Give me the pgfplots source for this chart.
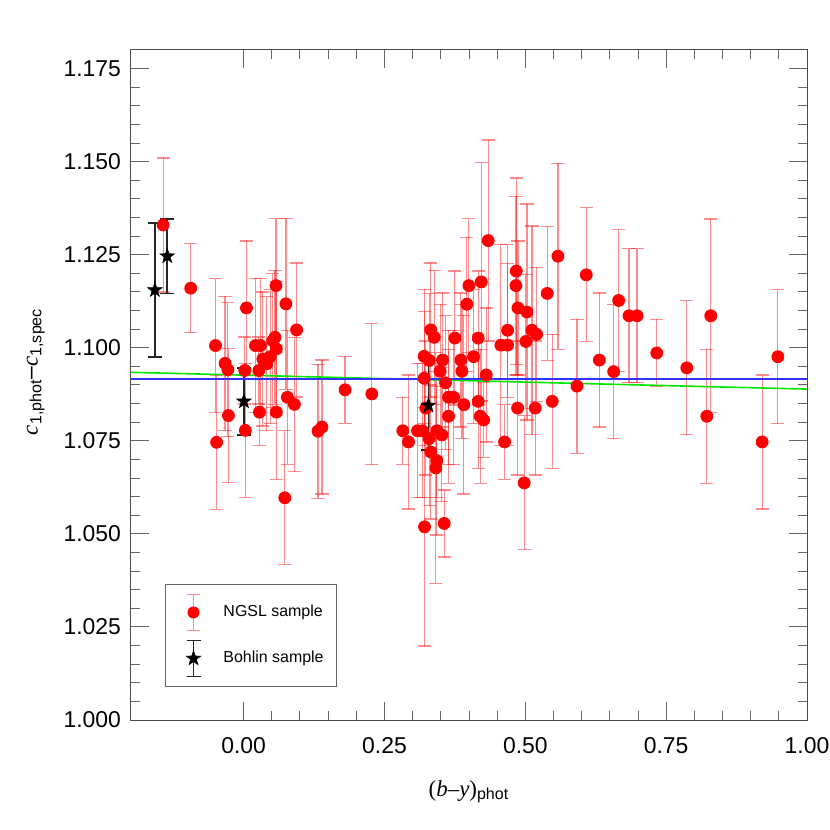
\documentclass[border=0pt]{standalone}
\usepackage{fontspec}
\setmainfont{Liberation Sans}
\newfontfamily\serif{Liberation Serif}
\usepackage{pgfplots}
\pgfplotsset{compat=1.18}
\usepackage{pgfplotstable}

\pgfdeclareplotmark{fstar}{%
  \pgfpathmoveto{\pgfpointpolar{90}{\pgfplotmarksize}}%
  \pgfpathlineto{\pgfpointpolar{126}{0.40\pgfplotmarksize}}%
  \pgfpathlineto{\pgfpointpolar{162}{\pgfplotmarksize}}%
  \pgfpathlineto{\pgfpointpolar{198}{0.40\pgfplotmarksize}}%
  \pgfpathlineto{\pgfpointpolar{234}{\pgfplotmarksize}}%
  \pgfpathlineto{\pgfpointpolar{270}{0.40\pgfplotmarksize}}%
  \pgfpathlineto{\pgfpointpolar{306}{\pgfplotmarksize}}%
  \pgfpathlineto{\pgfpointpolar{342}{0.40\pgfplotmarksize}}%
  \pgfpathlineto{\pgfpointpolar{18}{\pgfplotmarksize}}%
  \pgfpathlineto{\pgfpointpolar{54}{0.40\pgfplotmarksize}}%
  \pgfpathclose\pgfusepathqfillstroke}

\pgfplotstableread{
x y e
-0.143 1.1330 0.018
-0.094 1.1160 0.012
-0.050 1.1006 0.018
-0.048 1.0746 0.018
-0.033 1.0958 0.018
-0.028 1.0941 0.018
-0.027 1.0818 0.018
0.003 1.0778 0.018
0.005 1.1107 0.018
0.002 1.0939 0.009
0.021 1.1006 0.018
0.030 1.1006 0.018
0.034 1.0970 0.018
0.041 1.0957 0.018
0.027 1.0939 0.009
0.047 1.0976 0.018
0.0515 1.1019 0.018
0.0556 1.1028 0.018
0.058 1.0997 0.018
0.0575 1.1167 0.018
0.075 1.1118 0.023
0.094 1.1048 0.018
0.028 1.0827 0.009
0.058 1.0827 0.018
0.0776 1.0867 0.018
0.090 1.0848 0.018
0.073 1.0597 0.018
0.132 1.0776 0.018
0.139 1.0787 0.018
0.180 1.0887 0.009
0.2275 1.0876 0.019
0.2825 1.0777 0.009
0.2926 1.0747 0.018
0.3086 1.0777 0.018
0.3175 1.0777 0.018
0.3211 1.0519 0.032
0.3204 1.0977 0.018
0.3204 1.0918 0.018
0.3234 1.0838 0.018
0.3293 1.0966 0.018
0.3323 1.1048 0.018
0.3382 1.1028 0.018
0.3430 1.0777 0.018
0.3293 1.0756 0.018
0.3323 1.0720 0.018
0.3430 1.0697 0.020
0.3412 1.0677 0.031
0.3518 1.0766 0.018
0.3530 1.0967 0.018
0.3487 1.0937 0.018
0.3583 1.0906 0.018
0.3637 1.0867 0.018
0.3726 1.0867 0.018
0.3637 1.0816 0.018
0.3560 1.0528 0.009
0.3749 1.1026 0.018
0.3856 1.0967 0.018
0.3874 1.0937 0.018
0.3909 1.0847 0.024
0.3962 1.1117 0.018
0.3998 1.1167 0.018
0.4081 1.0976 0.018
0.4163 1.1026 0.018
0.4163 1.0856 0.018
0.4199 1.0816 0.018
0.4259 1.0806 0.010
0.4217 1.1177 0.032
0.4341 1.1288 0.027
0.4306 1.0927 0.018
0.4566 1.1007 0.027
0.4685 1.1007 0.027
0.4685 1.1047 0.018
0.4632 1.0747 0.010
0.4839 1.1206 0.025
0.4833 1.1167 0.024
0.4869 1.1107 0.018
0.5028 1.1096 0.029
0.5010 1.1017 0.018
0.4863 1.0838 0.018
0.5176 1.0838 0.018
0.4980 1.0637 0.018
0.5117 1.1047 0.028
0.5200 1.1036 0.018
0.5389 1.1146 0.018
0.5478 1.0856 0.018
0.5579 1.1246 0.025
0.5917 1.0897 0.018
0.6082 1.1196 0.018
0.6314 1.0967 0.018
0.6568 1.0936 0.018
0.6657 1.1127 0.019
0.6840 1.1086 0.018
0.6983 1.1086 0.018
0.7333 1.0986 0.009
0.7866 1.0946 0.018
0.8221 1.0816 0.018
0.8292 1.1086 0.026
0.9204 1.0747 0.018
0.9483 1.0976 0.018
}\ngsl

\pgfplotstableread{
x y e
-0.1576 1.1155 0.018
-0.1356 1.1246 0.010
0.0005 1.0856 0.009
0.3280 1.0845 0.012
}\bohlin

\begin{document}
\begin{tikzpicture}
\begin{axis}[
  scale only axis, width=338bp, height=335bp,
  xmin=-0.2, xmax=1.0, ymin=1.0, ymax=1.18,
  xtick={0,0.25,0.5,0.75,1}, minor x tick num=4,
  ytick={1,1.025,1.05,1.075,1.1,1.125,1.15,1.175}, minor y tick num=4,
  tick align=inside,
  major tick length=9bp, minor tick length=4.5bp,
  axis line style={black!70, line width=0.5bp},
  tick style={black!60, line width=0.5bp},
  ticklabel style={font=\fontsize{11.5}{13}\selectfont},
  /pgf/number format/assume math mode=true,
  scaled ticks=false,
  xticklabel style={/pgf/number format/.cd, fixed, fixed zerofill, precision=2, /tikz/.cd, yshift=-5bp},
  yticklabel style={/pgf/number format/.cd, fixed, fixed zerofill, precision=3, /tikz/.cd, xshift=-1.5bp},
  xlabel={{\serif(\textit{b}–\textit{y})}\textsubscript{phot}},
  xlabel style={font=\fontsize{11.5}{13}\selectfont, at={(axis description cs:0.5,0)}, anchor=north, yshift=-30bp, inner sep=0pt},
  ylabel={{\serif\textit{c}}\textsubscript{1,phot}–{\serif\textit{c}}\textsubscript{1,spec}},
  ylabel style={font=\fontsize{11.5}{13}\selectfont, at={(axis description cs:0,0.52)}, anchor=south, yshift=43bp, inner sep=0pt},
  legend style={at={(axis description cs:0.0503,0.0493)}, anchor=south west,
    font=\fontsize{8}{9.5}\selectfont, draw=black!60, line width=0.5bp,
    inner xsep=4.5bp, inner ysep=4.5bp, row sep=4bp, column sep=5.5bp},
  legend cell align=left,
]
\addplot[only marks, mark=*, mark size=3bp, color=red, mark options={draw=red, fill=red},
  legend image code/.code={
    \path[draw=none,fill=none] (0cm,-9.5bp) (0.6cm,9.5bp);
    \draw[red, opacity=0.45, line width=0.6bp, fill=none] (0.3cm+1bp,-9bp) -- (0.3cm+1bp,9bp)
       (0.3cm-2.3bp,-9bp) -- (0.3cm+4.3bp,-9bp) (0.3cm-2.3bp,9bp) -- (0.3cm+4.3bp,9bp);
    \fill[red, draw=none] (0.3cm+1bp,0cm) circle (3bp);
  },
  error bars/.cd, y dir=both, y explicit,
  error bar style={red, opacity=0.45, line width=0.6bp},
  error mark options={rotate=90, red, opacity=0.45, mark size=3.3bp, line width=0.6bp}]
  table[x=x, y=y, y error=e] {\ngsl};
\addlegendentry{NGSL sample}

\addplot[only marks, mark=fstar, mark size=3.8bp, color=black, mark options={draw=black, fill=black, line width=0.3bp},
  legend image code/.code={
    \path[draw=none,fill=none] (0cm,-9.5bp) (0.6cm,9.5bp);
    \draw[black!85, line width=0.9bp, fill=none] (0.3cm+1bp,-9bp) -- (0.3cm+1bp,9bp)
       (0.3cm-2.5bp,-9bp) -- (0.3cm+4.5bp,-9bp) (0.3cm-2.5bp,9bp) -- (0.3cm+4.5bp,9bp);
    \draw[black, fill=black, line width=0.3bp] plot[only marks, mark=fstar, mark size=3.8bp] coordinates {(0.3cm+1bp,0cm)};
  },
  error bars/.cd, y dir=both, y explicit,
  error bar style={black!85, line width=0.9bp},
  error mark options={rotate=90, black!85, mark size=3.5bp, line width=0.9bp}]
  table[x=x, y=y, y error=e] {\bohlin};
\addlegendentry{Bohlin sample}

\addplot[color=green!90!black, line width=0.8bp, forget plot] coordinates {(-0.2,1.0934) (1.0,1.0889)};
\addplot[color=blue!80!white, line width=0.8bp, forget plot] coordinates {(-0.2,1.0916) (1.0,1.0916)};
\end{axis}
\pgfresetboundingbox
\path (current axis.south west) ++(-65.5bp,-55bp) coordinate (bbl);
\path (current axis.north east) ++(11.5bp,25bp) coordinate (btr);
\path (bbl) rectangle (btr);
\end{tikzpicture}
\end{document}
